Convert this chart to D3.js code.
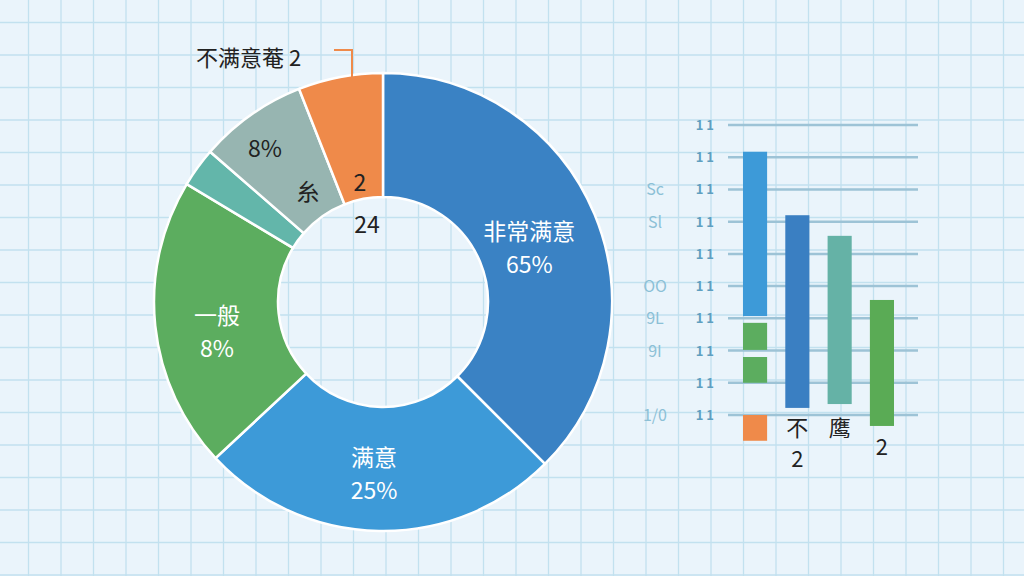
<!DOCTYPE html>
<html><head><meta charset="utf-8">
<script src="https://cdn.jsdelivr.net/npm/d3@7"></script>
<style>body{margin:0;background:#eaf4fb}svg{display:block}text{font-family:"Noto Sans CJK SC","Noto Sans",sans-serif}</style>
</head><body><svg id="c" width="1024" height="576"></svg>
<script>
const sliceNames=["非常满意","满意","一般","其他","较不满意","不满意"];
const sliceValues=[135,92,74,10,27.5,21.5];
const sliceColors=["#3a82c4","#3d9ad8","#5cad5f","#63b6aa","#97b5b1","#ef8a4a"];
const sliceLabels=[["非常满意","65%"],["满意","25%"],["一般","8%"],[],[],[]];
const barCats=["A","B","C","D"];
const barSegments=[
 {cat:"A",lo:3.07,hi:8.17,color:"#3d9ad8"},
 {cat:"A",lo:2.02,hi:2.86,color:"#5cad5f"},
 {cat:"A",lo:1.0,hi:1.8,color:"#5cad5f"},
 {cat:"A",lo:-0.8,hi:0,color:"#ef8a4a"},
 {cat:"B",lo:0.22,hi:6.2,color:"#3a7fc2"},
 {cat:"C",lo:0.34,hi:5.56,color:"#65b2a6"},
 {cat:"D",lo:-0.34,hi:3.57,color:"#5aab55"}];
const gridTicks=[0,1,2,3,4,5,6,7,8,9];
const leftTickLabels={7:"Sc",6:"Sl",4:"OO",3:"9L",2:"9I",0:"1/0"};
const barLabels=[["B","不",0],["B","2",1],["C","鹰",0],["D","2",0.6]];

const svg=d3.select("#c");
const bg=svg.append("g");
bg.append("rect").attr("width",1024).attr("height",576).attr("fill","#eaf4fb");
d3.range(-4,1030,32.5).forEach(x=>bg.append("line").attr("x1",x).attr("x2",x).attr("y1",0).attr("y2",576).attr("stroke","#c2e1ef").attr("stroke-width",1.3));
d3.range(-10,580,32.5).forEach(y=>bg.append("line").attr("y1",y).attr("y2",y).attr("x1",0).attr("x2",1024).attr("stroke","#c2e1ef").attr("stroke-width",1.3));

const cx=383,cy=302,R=229,r0=105;
const pie=d3.pie().sort(null).value(d=>d)(sliceValues);
const arc=d3.arc().innerRadius(r0).outerRadius(R);
const g=svg.append("g").attr("transform",`translate(${cx},${cy})`);
g.selectAll("path").data(pie).join("path").attr("d",arc).attr("fill",(d,i)=>sliceColors[i]).attr("stroke","#fff").attr("stroke-width",2.5);
pie.forEach((d,i)=>{const L=sliceLabels[i];if(!L.length)return;const [x,y]=arc.centroid(d);
 const adj=[[-8,2],[-6,-3],[0,5]][i];
 L.forEach((t,k)=>g.append("text").attr("x",x+adj[0]).attr("y",y+adj[1]+k*33).attr("text-anchor","middle").attr("fill","#fff").attr("font-size",23).text(t));});
const dark="#222";
[["8%",265,157],["糸",308,200],["2",360,191],["24",367,233]].forEach(([t,x,y])=>svg.append("text").attr("x",x).attr("y",y).attr("text-anchor","middle").attr("fill",dark).attr("font-size",23).text(t));
svg.append("text").attr("x",196).attr("y",66).attr("fill",dark).attr("font-size",22).text("不满意菴 2");
svg.append("path").attr("d","M334,50 H352 V112").attr("fill","none").attr("stroke","#ef8a4a").attr("stroke-width",2);

const y=d3.scaleLinear().domain([0,9]).range([415,125]);
const x=d3.scaleBand().domain(barCats).range([743,894]).paddingInner(0.43).paddingOuter(0);
const bc=svg.append("g");
gridTicks.forEach(t=>{bc.append("line").attr("x1",728).attr("x2",918).attr("y1",y(t)).attr("y2",y(t)).attr("stroke","#9dc3d6").attr("stroke-width",2.5);
 bc.append("text").attr("x",714).attr("y",y(t)+5).attr("text-anchor","end").attr("fill","#5f9fc0").attr("font-size",13).attr("font-weight","bold").text("1 1");
 if(leftTickLabels[t])bc.append("text").attr("x",655).attr("y",y(t)+6).attr("text-anchor","middle").attr("fill","#8cc0d6").attr("font-size",16).text(leftTickLabels[t]);});
bc.selectAll("rect.b").data(barSegments).join("rect").attr("x",d=>x(d.cat)).attr("width",x.bandwidth()).attr("y",d=>y(d.hi)).attr("height",d=>y(d.lo)-y(d.hi)).attr("fill",d=>d.color);
barLabels.forEach(([c,t,k])=>bc.append("text").attr("x",x(c)+x.bandwidth()/2).attr("y",436+k*31).attr("text-anchor","middle").attr("fill",dark).attr("font-size",22).text(t));
</script></body></html>
